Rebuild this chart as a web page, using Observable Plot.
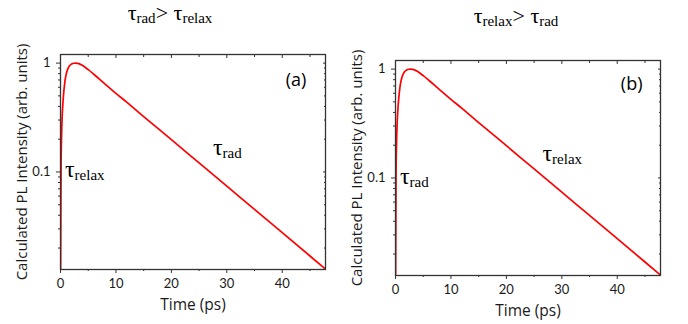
<!DOCTYPE html>
<html>
<head>
<meta charset="utf-8">
<script src="https://cdn.jsdelivr.net/npm/d3@7"></script>
<script src="https://cdn.jsdelivr.net/npm/@observablehq/plot@0.6"></script>
<style>
  html, body { margin: 0; padding: 0; background: #fff; }
  #wrap { position: relative; width: 688px; height: 324px; overflow: hidden; background: #fff; }
  .panel { position: absolute; }
  .title { position: absolute; font-family: "Liberation Serif", "Times New Roman", serif; color: #000;
           white-space: nowrap; transform: translateX(-50%); line-height: 22px; font-size: 22px; }
  .title .sub { font-size: 15px; position: relative; top: 3px; }
</style>
</head>
<body>
<div id="wrap"></div>
<script>
// ---- data ----
const timePs = [0.02, 0.1, 0.2, 0.3, 0.45, 0.6, 0.8, 1.0, 1.3, 1.6, 2.0, 2.4, 2.8, 3.3, 4, 5, 6, 8, 10, 12, 15, 20, 25, 30, 35, 40, 45, 47.8];
const intensityA = [0.0128, 0.11, 0.22, 0.32, 0.44, 0.55, 0.68, 0.78, 0.88, 0.94, 0.98, 0.997, 1.0, 0.99, 0.95, 0.87, 0.79, 0.645, 0.528, 0.435, 0.323, 0.198, 0.121, 0.074, 0.0453, 0.0277, 0.0169, 0.0128];
const intensityB = [0.0128, 0.11, 0.22, 0.32, 0.44, 0.55, 0.68, 0.78, 0.88, 0.94, 0.98, 0.997, 1.0, 0.99, 0.95, 0.87, 0.79, 0.645, 0.528, 0.435, 0.323, 0.198, 0.121, 0.074, 0.0453, 0.0277, 0.0169, 0.0128];

const xMajorTicks = [0, 10, 20, 30, 40];
const xMinorTicks = [5, 15, 25, 35, 45];
const yMajorTicks = [0.1, 1];
const yMajorLabels = ["0.1", "1"];
const yMinorTicks = [0.02, 0.03, 0.04, 0.05, 0.06, 0.07, 0.08, 0.09, 0.2, 0.3, 0.4, 0.5, 0.6, 0.7, 0.8, 0.9];
const xDomain = [0, 47.8];
const yDomain = [0.0127, 1.2];

const xLabel = "Time (ps)";
const yLabel = "Calculated PL Intensity (arb. units)";

const titles = [
  [["τ", "rad"], ["τ", "relax"]],
  [["τ", "relax"], ["τ", "rad"]]
];
const panelLetters = ["(a)", "(b)"];
const letterPos = [{t: 42.5, v: 0.69}, {t: 42.6, v: 0.73}];
const annotationsA = [{t: 0.8, v: 0.105, sym: "τ", sub: "relax"}, {t: 27.5, v: 0.167, sym: "τ", sub: "rad"}];
const annotationsB = [{t: 0.8, v: 0.104, sym: "τ", sub: "rad"}, {t: 26.5, v: 0.167, sym: "τ", sub: "relax"}];

// ---- drawing ----
const svgns = "http://www.w3.org/2000/svg";
const wrap = document.getElementById("wrap");
const blank = () => "";
const sans = "Open Sans, Lato, sans-serif";

function makePanel(intensity, annotations, letter, lpos) {
  const data = timePs.map((t, i) => ({t, v: intensity[i]}));
  const svg = Plot.plot({
    width: 340, height: 288,
    marginLeft: 60, marginRight: 15, marginTop: 24, marginBottom: 49,
    style: {fontFamily: "Lato, sans-serif", fontSize: "13px", color: "#1a1a1a", background: "transparent", overflow: "visible"},
    x: {domain: xDomain},
    y: {type: "log", domain: yDomain},
    marks: [
      Plot.axisY({anchor: "left", ticks: yMajorTicks, tickFormat: d => yMajorLabels[yMajorTicks.indexOf(d)], tickSize: 4, tickPadding: 6, label: null, fontSize: 13, stroke: "#333"}),
      Plot.axisY({anchor: "left", ticks: yMinorTicks, tickFormat: blank, tickSize: 2, label: null, stroke: "#333"}),
      Plot.axisY({anchor: "left", ticks: [], label: yLabel, labelAnchor: "center", labelArrow: "none", labelOffset: 44, fontSize: 15, fontFamily: sans}),
      Plot.axisY({anchor: "right", ticks: yMajorTicks, tickFormat: blank, tickSize: -3, label: null, stroke: "#333"}),
      Plot.axisY({anchor: "right", ticks: yMinorTicks, tickFormat: blank, tickSize: -2, label: null, stroke: "#333"}),
      Plot.axisX({anchor: "bottom", ticks: xMajorTicks, tickSize: 4, tickPadding: 5, label: null, fontSize: 13, stroke: "#333"}),
      Plot.axisX({anchor: "bottom", ticks: xMinorTicks, tickFormat: blank, tickSize: 2, label: null, stroke: "#333"}),
      Plot.axisX({anchor: "bottom", ticks: [], label: xLabel, labelAnchor: "center", labelArrow: "none", labelOffset: 40, fontSize: 15.5, fontFamily: sans}),
      Plot.axisX({anchor: "top", ticks: xMajorTicks, tickFormat: blank, tickSize: -3, label: null, stroke: "#333"}),
      Plot.axisX({anchor: "top", ticks: xMinorTicks, tickFormat: blank, tickSize: -2, label: null, stroke: "#333"}),
      Plot.line(data, {x: "t", y: "v", stroke: "#ff0000", strokeWidth: 1.7, curve: "monotone-x", clip: true}),
      Plot.frame({stroke: "#333", strokeWidth: 1.3}),
      Plot.text(annotations, {x: "t", y: "v", text: d => d.sym + "|" + d.sub, textAnchor: "start", fontSize: 24, fontFamily: "Liberation Serif, serif", fill: "#000"}),
      Plot.text([lpos], {x: "t", y: "v", text: () => letter, fontSize: 18, fontFamily: sans, fill: "#000"})
    ]
  });
  // render subscripts
  svg.querySelectorAll("text").forEach(el => {
    if (el.children.length === 0 && el.textContent.includes("|")) {
      const [a, b] = el.textContent.split("|");
      el.textContent = a;
      const ts = document.createElementNS(svgns, "tspan");
      ts.setAttribute("font-size", "15");
      ts.setAttribute("dy", "3");
      ts.textContent = b;
      el.appendChild(ts);
    }
  });
  return svg;
}

const panels = [
  {intensity: intensityA, ann: annotationsA, left: 0, top: 30, titleX: 170, titleY: 1.6},
  {intensity: intensityB, ann: annotationsB, left: 335, top: 36, titleX: 516, titleY: 5}
];

panels.forEach((p, i) => {
  const div = document.createElement("div");
  div.className = "panel";
  div.style.left = p.left + "px";
  div.style.top = p.top + "px";
  div.appendChild(makePanel(p.intensity, p.ann, panelLetters[i], letterPos[i]));
  wrap.appendChild(div);

  const t = document.createElement("div");
  t.className = "title";
  t.style.left = p.titleX + "px";
  t.style.top = p.titleY + "px";
  const [l, r] = titles[i];
  t.innerHTML = `<span class="sym">${l[0]}</span><span class="sub">${l[1]}</span>&gt; <span class="sym">${r[0]}</span><span class="sub">${r[1]}</span>`;
  wrap.appendChild(t);
});
</script>
</body>
</html>
